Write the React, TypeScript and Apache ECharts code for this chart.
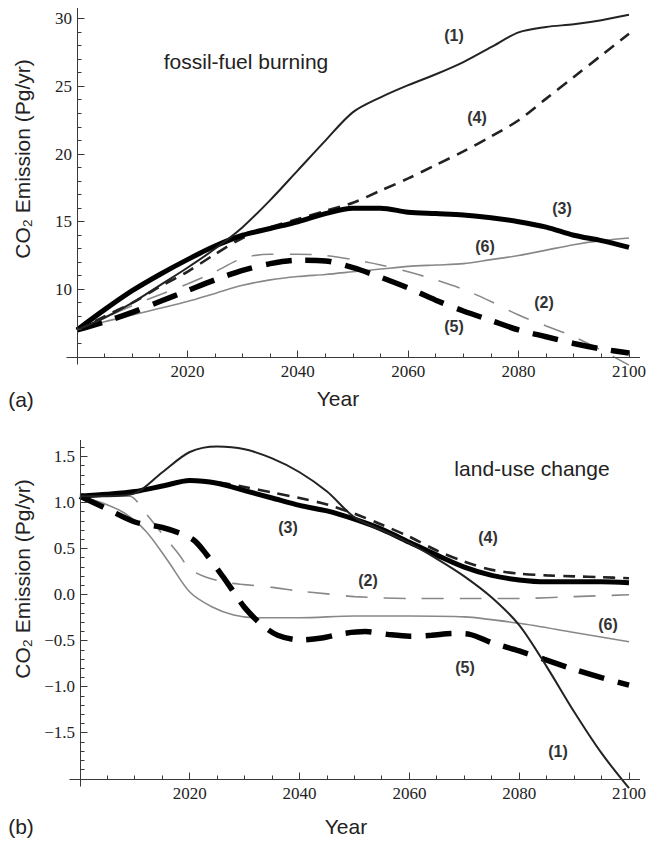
import React, { useEffect, useRef } from "react";
import * as echarts from "echarts";

// ---------- data ----------
const yearsTop = [2000, 2005, 2010, 2015, 2020, 2025, 2030, 2035, 2040, 2045, 2050, 2055, 2060, 2065, 2070, 2075, 2080, 2085, 2090, 2095, 2100];
const fossil1 = [7.0, 7.9, 9.0, 10.3, 11.6, 13.0, 14.6, 16.6, 18.8, 21.0, 23.1, 24.2, 25.1, 25.9, 26.8, 27.9, 29.0, 29.4, 29.6, 29.9, 30.3];
const fossil2 = [7.0, 7.9, 8.8, 9.6, 10.4, 11.3, 12.3, 12.6, 12.6, 12.5, 12.2, 11.8, 11.3, 10.7, 10.0, 9.1, 8.1, 7.3, 6.5, 5.5, 4.4];
const fossil3 = [7.0, 8.5, 9.9, 11.1, 12.2, 13.2, 14.0, 14.5, 15.0, 15.6, 16.0, 16.0, 15.7, 15.6, 15.5, 15.3, 15.0, 14.6, 14.0, 13.6, 13.1];
const fossil4 = [7.0, 8.0, 9.0, 10.2, 11.3, 12.6, 13.8, 14.6, 15.2, 15.8, 16.4, 17.3, 18.2, 19.2, 20.2, 21.3, 22.5, 24.1, 25.7, 27.3, 28.9];
const fossil5 = [7.0, 7.6, 8.3, 9.1, 9.9, 10.7, 11.4, 11.9, 12.15, 12.1, 11.6, 10.9, 10.1, 9.2, 8.4, 7.7, 7.0, 6.5, 6.0, 5.6, 5.3];
const fossil6 = [7.0, 7.6, 8.1, 8.6, 9.1, 9.7, 10.3, 10.7, 10.95, 11.1, 11.3, 11.5, 11.7, 11.8, 11.9, 12.2, 12.5, 12.9, 13.3, 13.6, 13.8];

const yearsLand = yearsTop;
const land1 = [1.07, 1.07, 1.1, 1.33, 1.55, 1.61, 1.58, 1.48, 1.33, 1.12, 0.84, 0.7, 0.56, 0.39, 0.2, -0.03, -0.33, -0.78, -1.27, -1.72, -2.1];
const land3 = [1.07, 1.09, 1.12, 1.18, 1.24, 1.21, 1.13, 1.05, 0.97, 0.91, 0.82, 0.71, 0.57, 0.43, 0.3, 0.21, 0.16, 0.14, 0.14, 0.14, 0.13];
const land4 = [1.07, 1.09, 1.12, 1.18, 1.24, 1.22, 1.17, 1.11, 1.05, 0.98, 0.88, 0.76, 0.63, 0.48, 0.36, 0.27, 0.23, 0.21, 0.2, 0.19, 0.18];
const yearsLand2 = [2000, 2005, 2009, 2012, 2015, 2018, 2020, 2023, 2027, 2030, 2035, 2040, 2045, 2050, 2060, 2070, 2080, 2090, 2100];
const land2 = [1.07, 1.07, 1.07, 0.88, 0.66, 0.44, 0.28, 0.19, 0.13, 0.11, 0.08, 0.04, 0.01, -0.02, -0.04, -0.04, -0.04, -0.02, 0.0];
const yearsLand6 = [2000, 2004, 2008, 2012, 2016, 2020, 2024, 2028, 2032, 2040, 2050, 2060, 2070, 2080, 2090, 2100];
const land6 = [1.07, 1.0, 0.89, 0.69, 0.37, 0.03, -0.13, -0.22, -0.25, -0.25, -0.23, -0.23, -0.24, -0.31, -0.41, -0.51];
const yearsLand5 = [2000, 2005, 2010, 2015, 2019, 2021, 2023, 2026, 2028, 2030, 2033, 2036, 2040, 2044, 2048, 2052, 2056, 2060, 2064, 2068, 2071, 2075, 2080, 2085, 2090, 2095, 2100];
const land5 = [1.07, 0.93, 0.79, 0.73, 0.65, 0.58, 0.44, 0.2, 0.03, -0.14, -0.32, -0.44, -0.49, -0.47, -0.42, -0.4, -0.43, -0.45, -0.44, -0.42, -0.43, -0.52, -0.61, -0.71, -0.81, -0.9, -0.98];

const xLabelTicks = [2020, 2040, 2060, 2080, 2100];
const yTopLabels = [10, 15, 20, 25, 30];
const yBotLabels = [-1.5, -1.0, -0.5, 0.0, 0.5, 1.0, 1.5];

// tick spacing (major / minor) for each axis
const xTickSpec = { from: 2000, to: 2100, major: 20, minor: 5 };
const yTopTickSpec = { from: 5, to: 30, major: 5, minor: 1 };
const yBotTickSpec = { from: -2.0, to: 1.6, major: 0.5, minor: 0.1 };

const pairs = (xs: number[], ys: number[]) => xs.map((x, i) => [x, ys[i]]);

const AX = "#3a3a3a";
const SERIF = "Liberation Serif";
const SANS = "Liberation Sans, DejaVu Sans, sans-serif";

function xAxis(gridIndex: number) {
  return {
    type: "value",
    gridIndex,
    min: 2000,
    max: 2100,
    interval: 20,
    axisLine: { show: false, onZero: false },
    axisTick: { show: false },
    minorTick: { show: false },
    splitLine: { show: false },
    axisLabel: {
      customValues: xLabelTicks,
      formatter: (v: number) => String(Math.round(v)),
      fontFamily: SERIF,
      fontSize: 17,
      color: "#222",
      margin: 6,
    },
  };
}

function yAxis(gridIndex: number, min: number, max: number, interval: number, labels: number[], fmt: (v: number) => string) {
  return {
    type: "value",
    gridIndex,
    min,
    max,
    interval,
    axisLine: { show: false, onZero: false },
    axisTick: { show: false },
    minorTick: { show: false },
    splitLine: { show: false },
    axisLabel: {
      customValues: labels,
      formatter: fmt,
      fontFamily: SERIF,
      fontSize: 17,
      color: "#222",
      margin: 5,
    },
  };
}

type Sty = { color: string; width: number; dash: number[] | "solid" };
const STY: Record<string, Sty> = {
  s1: { color: "#222", width: 2, dash: "solid" },
  s2: { color: "#888", width: 1.6, dash: [22, 16] },
  s3: { color: "#000", width: 5, dash: "solid" },
  s4: { color: "#222", width: 2.6, dash: [12, 8] },
  s5: { color: "#000", width: 5.5, dash: [26, 14] },
  s6: { color: "#888", width: 1.6, dash: "solid" },
};

function line(name: string, data: number[][], idx: number, sty: Sty, z: number) {
  return {
    type: "line",
    name,
    xAxisIndex: idx,
    yAxisIndex: idx,
    data,
    showSymbol: false,
    symbol: "none",
    smooth: 0.3,
    clip: false,
    z,
    lineStyle: { color: sty.color, width: sty.width, type: sty.dash, cap: "butt" },
  };
}

function tag(n: string, x: number, y: number) {
  return {
    type: "text",
    x,
    y,
    style: {
      text: "(" + n + ")",
      font: "bold 16px " + SANS,
      fill: "#333",
      align: "center",
      verticalAlign: "middle",
    },
  };
}

function plain(text: string, x: number, y: number, rotation = 0) {
  return {
    type: "text",
    x,
    y,
    rotation,
    style: { text, font: "21px " + SANS, fill: "#222", align: "center", verticalAlign: "middle" },
  };
}

function seg(x1: number, y1: number, x2: number, y2: number) {
  return { type: "line", shape: { x1, y1, x2, y2 }, style: { stroke: AX, lineWidth: 1 }, silent: true, z: 10 };
}

const crisp = (v: number) => Math.round(v - 0.5) + 0.5;

export default function App() {
  const ref = useRef<HTMLDivElement>(null);
  useEffect(() => {
    if (!ref.current) return;
    const chart = echarts.init(ref.current, undefined, { renderer: "svg" });
    const option = {
      animation: false,
      backgroundColor: "#fff",
      grid: [
        { left: 77, width: 554, top: 8, height: 349 },
        { left: 80, width: 551, top: 440, height: 339 },
      ],
      xAxis: [xAxis(0), xAxis(1)],
      yAxis: [
        yAxis(0, 5, 30.8, 5, yTopLabels, (v: number) => String(Math.round(v))),
        yAxis(1, -2, 1.68, 0.5, yBotLabels, (v: number) => (v < 0 ? "\u2212" + Math.abs(v).toFixed(1) : v.toFixed(1))),
      ],
      series: [
        line("(6)", pairs(yearsTop, fossil6), 0, STY.s6, 1),
        line("(2)", pairs(yearsTop, fossil2), 0, STY.s2, 2),
        line("(5)", pairs(yearsTop, fossil5), 0, STY.s5, 3),
        line("(4)", pairs(yearsTop, fossil4), 0, STY.s4, 4),
        line("(3)", pairs(yearsTop, fossil3), 0, STY.s3, 5),
        line("(1)", pairs(yearsTop, fossil1), 0, STY.s1, 6),
        line("(6)", pairs(yearsLand6, land6), 1, STY.s6, 1),
        line("(2)", pairs(yearsLand2, land2), 1, STY.s2, 2),
        line("(5)", pairs(yearsLand5, land5), 1, STY.s5, 3),
        line("(4)", pairs(yearsLand, land4), 1, STY.s4, 4),
        line("(3)", pairs(yearsLand, land3), 1, STY.s3, 5),
        line("(1)", pairs(yearsLand, land1), 1, STY.s1, 6),
      ],
    };
    chart.setOption(option as any);

    // axes (Mathematica style, slightly extended) with inward ticks, placed through the axis scales
    const axisEls: any[] = [];
    const buildAxes = (idx: number, ySpec: { from: number; to: number; major: number; minor: number }, yMin: number, yMax: number) => {
      const px = (v: number) => chart.convertToPixel({ xAxisIndex: idx } as any, v) as number;
      const py = (v: number) => chart.convertToPixel({ yAxisIndex: idx } as any, v) as number;
      const x0 = crisp(px(xTickSpec.from));
      const x1 = px(xTickSpec.to);
      const y0 = crisp(py(yMin));
      const yTop = py(yMax);
      axisEls.push(seg(x0 - 11, y0, x1 + 11, y0));
      axisEls.push(seg(x0, yTop, x0, y0 + 7));
      const nx = Math.round((xTickSpec.to - xTickSpec.from) / xTickSpec.minor);
      for (let i = 1; i <= nx; i++) {
        const v = xTickSpec.from + i * xTickSpec.minor;
        const isMajor = Math.abs(v / xTickSpec.major - Math.round(v / xTickSpec.major)) < 1e-6;
        const xx = crisp(px(v));
        axisEls.push(seg(xx, y0, xx, y0 - (isMajor ? 7 : 4)));
      }
      const ny = Math.round((ySpec.to - ySpec.from) / ySpec.minor);
      for (let i = 1; i <= ny; i++) {
        const v = ySpec.from + i * ySpec.minor;
        const r = v / ySpec.major;
        const isMajor = Math.abs(r - Math.round(r)) < 1e-6;
        const yy = crisp(py(v));
        axisEls.push(seg(x0, yy, x0 + (isMajor ? 7 : 4), yy));
      }
    };
    buildAxes(0, yTopTickSpec, 5, 30.8);
    buildAxes(1, yBotTickSpec, -2, 1.68);

    chart.setOption({
      graphic: [
        ...axisEls,
        plain("fossil-fuel burning", 246, 61),
        plain("land-use change", 532, 468),
        plain("CO\u2082 Emission (Pg/yr)", 22, 159, Math.PI / 2),
        plain("CO\u2082 Emission (Pg/yr)", 22, 579, Math.PI / 2),
        plain("Year", 338, 398),
        plain("Year", 346, 826),
        plain("(a)", 21, 399),
        plain("(b)", 21, 826),
        tag("1", 454, 35),
        tag("4", 477, 117),
        tag("3", 562, 208),
        tag("6", 485, 246),
        tag("2", 544, 302),
        tag("5", 454, 326),
        tag("3", 288, 527),
        tag("4", 488, 537),
        tag("2", 368, 580),
        tag("6", 608, 624),
        tag("5", 465, 667),
        tag("1", 558, 751),
      ],
    } as any);
    return () => chart.dispose();
  }, []);
  return <div ref={ref} style={{ position: "fixed", left: 0, top: 0, width: 649, height: 842 }} />;
}
